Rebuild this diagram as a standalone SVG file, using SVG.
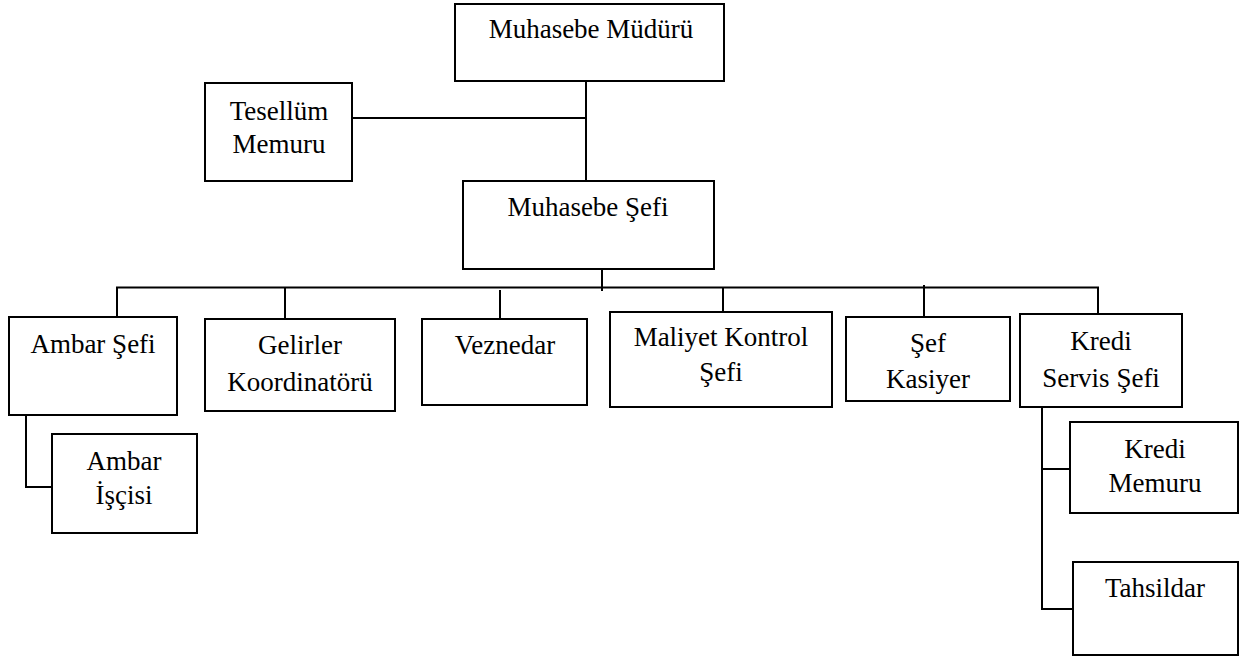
<svg xmlns="http://www.w3.org/2000/svg" width="1244" height="657" viewBox="0 0 1244 657">
<style>
.box{fill:#fff;stroke:#000;stroke-width:2}
.ln{fill:none;stroke:#000;stroke-width:2}
text{font-family:"Liberation Serif","Times New Roman",serif;font-size:27px;fill:#000;text-anchor:middle}
</style>
<rect width="1244" height="657" fill="#fff"/>
<g id="connectors">
<line class="ln" x1="586" y1="81" x2="586" y2="181"/>
<line class="ln" x1="352" y1="118" x2="586" y2="118"/>
<line class="ln" x1="602" y1="269" x2="602" y2="291"/>
<polyline class="ln" points="117,317 117,287.5 1098,287.5 1098,314"/>
<line class="ln" x1="285" y1="287" x2="285" y2="319"/>
<line class="ln" x1="500" y1="290" x2="500" y2="319"/>
<line class="ln" x1="723" y1="287" x2="723" y2="312"/>
<line class="ln" x1="924" y1="285" x2="924" y2="319"/>
<polyline class="ln" points="26,413 26,487 52,487"/>
<polyline class="ln" points="1042,406 1042,609 1073,609"/>
<line class="ln" x1="1042" y1="469" x2="1074" y2="469"/>
</g>
<g id="muhasebe-muduru">
<rect class="box" x="455" y="4" width="269" height="77"/>
<text x="591" y="38">Muhasebe Müdürü</text>
</g>
<g id="tesellum-memuru">
<rect class="box" x="205" y="83" width="147" height="98"/>
<text x="279" y="120">Tesellüm</text>
<text x="279" y="153">Memuru</text>
</g>
<g id="muhasebe-sefi">
<rect class="box" x="463" y="181" width="251" height="88"/>
<text x="588" y="216">Muhasebe Şefi</text>
</g>
<g id="ambar-sefi">
<rect class="box" x="9" y="317" width="168" height="98"/>
<text x="93" y="353">Ambar Şefi</text>
</g>
<g id="gelirler-koordinatoru">
<rect class="box" x="205" y="319" width="190" height="92"/>
<text x="300" y="354">Gelirler</text>
<text x="300" y="391">Koordinatörü</text>
</g>
<g id="veznedar">
<rect class="box" x="422" y="319" width="165" height="86"/>
<text x="505" y="354">Veznedar</text>
</g>
<g id="maliyet-kontrol-sefi">
<rect class="box" x="610" y="312" width="222" height="95"/>
<text x="721" y="346">Maliyet Kontrol</text>
<text x="721" y="381">Şefi</text>
</g>
<g id="sef-kasiyer">
<rect class="box" x="846" y="317" width="164" height="84"/>
<text x="928" y="352">Şef</text>
<text x="928" y="388">Kasiyer</text>
</g>
<g id="kredi-servis-sefi">
<rect class="box" x="1020" y="314" width="162" height="93"/>
<text x="1101" y="350">Kredi</text>
<text x="1101" y="387">Servis Şefi</text>
</g>
<g id="ambar-iscisi">
<rect class="box" x="52" y="434" width="145" height="99"/>
<text x="124" y="470">Ambar</text>
<text x="124" y="504">İşçisi</text>
</g>
<g id="kredi-memuru">
<rect class="box" x="1070" y="422" width="168" height="91"/>
<text x="1155" y="458">Kredi</text>
<text x="1155" y="492">Memuru</text>
</g>
<g id="tahsildar">
<rect class="box" x="1073" y="562" width="165" height="93"/>
<text x="1155" y="597">Tahsildar</text>
</g>
</svg>
